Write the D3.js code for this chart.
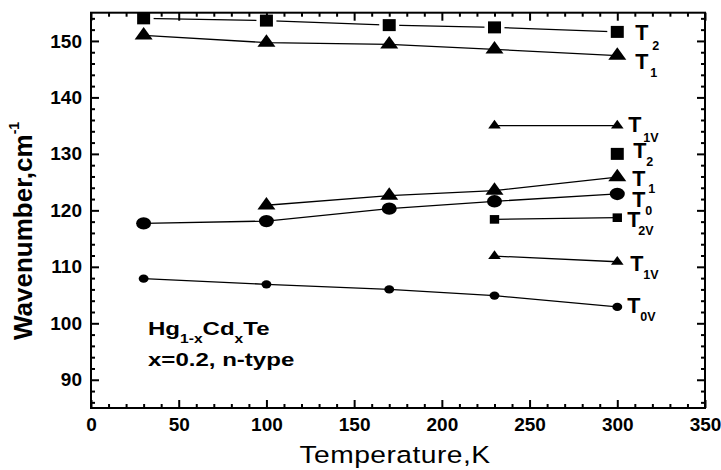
<!DOCTYPE html>
<html><head><meta charset="utf-8">
<script src="https://cdn.jsdelivr.net/npm/d3@7"></script>
<style>
body{margin:0;background:#fff}
svg{display:block}
text{font-family:"Liberation Sans",Arial,sans-serif;fill:#000}
</style>
</head><body>
<svg id="c" width="721" height="470"></svg>
<script>
// ---- data ----
const temps = [30, 100, 170, 230, 300];
const T2top  = [154.0, 153.6, 152.8, 152.4, 151.6];
const T1top  = [151.0, 149.7, 149.4, 148.5, 147.4];
const T1Vup  = [null, null, null, 135.0, 135.0];
const T2mid  = [null, null, null, null, 130.0];
const T1low  = [null, 120.9, 122.6, 123.5, 125.9];
const T0     = [117.7, 118.1, 120.3, 121.6, 122.9];
const T2V    = [null, null, null, 118.4, 118.7];
const T1Vlow = [null, null, null, 111.9, 110.9];
const T0V    = [107.9, 106.9, 106.0, 104.9, 102.9];
const xTicks = [0, 50, 100, 150, 200, 250, 300, 350];
const yTicks = [90, 100, 110, 120, 130, 140, 150];
const labelMain = ["T","T","T","T","T","T","T","T","T"];
const labelSub  = ["2","1","1V","2","1","0","2V","1V","0V"];

// ---- layout / style ----
const svg = d3.select("#c");
const x = d3.scaleLinear([0, 350], [91, 705]);
const y = d3.scaleLinear([85, 155], [408, 12.7]);

const series = [
  {v: T2top,  m: "sq",  s: 1, halo: true},
  {v: T1top,  m: "tri", s: 1},
  {v: T1Vup,  m: "tri", s: 0.7},
  {v: T2mid,  m: "sq",  s: 1},
  {v: T1low,  m: "tri", s: 1},
  {v: T0,     m: "cir", s: 1},
  {v: T2V,    m: "sq",  s: 0.72},
  {v: T1Vlow, m: "tri", s: 0.7},
  {v: T0V,    m: "cir", s: 0.66}
];
// label offsets relative to the last point of each series (px)
const labelPos = [
  {dx:18, dy:8,   sx:35, sy:18},
  {dx:18, dy:13,  sx:33, sy:21},
  {dx:11, dy:6.5, sx:26, sy:16.5},
  {dx:16, dy:4.5, sx:29, sy:12.5},
  {dx:15, dy:8.5, sx:31, sy:16},
  {dx:15, dy:13,  sx:28, sy:21},
  {dx:10, dy:9.5, sx:21, sy:17.5},
  {dx:13, dy:9,   sx:26, sy:17},
  {dx:10, dy:6,   sx:23, sy:14}
];

function markerPath(type, s) {
  if (type === "sq") { const w = 13*s, h = 12*s; return `M${-w/2},${-h/2}h${w}v${h}h${-w}Z`; }
  if (type === "tri") { const w = 18*s, h = 12.5*s; return `M0,${-2*h/3}L${w/2},${h/3}L${-w/2},${h/3}Z`; }
  const rx = 7.5*s, ry = 6.2*s;
  return `M${-rx},0A${rx},${ry} 0 1,0 ${rx},0A${rx},${ry} 0 1,0 ${-rx},0Z`;
}

const line = d3.line().defined(d => d[1] != null).x(d => x(d[0])).y(d => y(d[1]));

const gData = svg.append("g");
series.forEach(se => {
  const pts = temps.map((t, i) => [t, se.v[i]]);
  gData.append("path").attr("d", line(pts)).attr("fill", "none")
    .attr("stroke", "#000").attr("stroke-width", 1.3);
});
series.forEach(se => {
  const pts = temps.map((t, i) => [t, se.v[i]]).filter(d => d[1] != null);
  gData.selectAll(null).data(pts).enter().append("path")
    .attr("transform", d => `translate(${x(d[0])},${y(d[1])})`)
    .attr("d", markerPath(se.m, se.s))
    .attr("fill", "#000")
    .attr("stroke", se.halo ? "#fff" : "none")
    .attr("stroke-width", se.halo ? 7 : 0)
    .style("paint-order", "stroke");
});

// series labels
series.forEach((se, i) => {
  const last = temps.map((t, k) => [t, se.v[k]]).filter(d => d[1] != null).pop();
  const px = x(last[0]), py = y(last[1]), lp = labelPos[i];
  svg.append("text").attr("x", px + lp.dx).attr("y", py + lp.dy)
    .attr("font-size", 21.5).attr("font-weight", "bold").text(labelMain[i]);
  svg.append("text").attr("x", px + lp.sx).attr("y", py + lp.sy)
    .attr("font-size", 12.5).attr("font-weight", "bold").text(labelSub[i]);
});

// ---- axes ----
const minorX = d3.range(0, 351, 10).filter(v => v % 50 !== 0);
const minorY = d3.range(86, 155, 2).filter(v => v % 10 !== 0);

function styleAxis(g) {
  g.select(".domain").remove();
  g.selectAll("line").attr("stroke", "#000").attr("stroke-width", 2);
  g.selectAll("text").attr("font-size", 19).attr("font-weight", "bold")
    .attr("font-family", '"Liberation Sans",Arial,sans-serif');
}

svg.append("g").attr("transform", "translate(0,408)")
  .call(d3.axisBottom(x).tickValues(xTicks).tickSize(-8).tickPadding(10).tickFormat(d3.format("d"))).call(styleAxis);
svg.append("g").attr("transform", "translate(0,408)")
  .call(d3.axisBottom(x).tickValues(minorX).tickSize(-4).tickFormat("")).call(styleAxis);
svg.append("g").attr("transform", "translate(0,12.7)")
  .call(d3.axisTop(x).tickValues(xTicks).tickSize(-8).tickFormat("")).call(styleAxis);
svg.append("g").attr("transform", "translate(0,12.7)")
  .call(d3.axisTop(x).tickValues(minorX).tickSize(-4).tickFormat("")).call(styleAxis);
svg.append("g").attr("transform", "translate(91,0)")
  .call(d3.axisLeft(y).tickValues(yTicks).tickSize(-8).tickPadding(9).tickFormat(d3.format("d"))).call(styleAxis);
svg.append("g").attr("transform", "translate(91,0)")
  .call(d3.axisLeft(y).tickValues(minorY).tickSize(-4).tickFormat("")).call(styleAxis);
svg.append("g").attr("transform", "translate(705,0)")
  .call(d3.axisRight(y).tickValues(yTicks).tickSize(-8).tickFormat("")).call(styleAxis);
svg.append("g").attr("transform", "translate(705,0)")
  .call(d3.axisRight(y).tickValues(minorY).tickSize(-4).tickFormat("")).call(styleAxis);

svg.append("rect").attr("x", 91).attr("y", 12.7).attr("width", 614).attr("height", 395.3)
  .attr("fill", "none").attr("stroke", "#000").attr("stroke-width", 2);

// axis titles
svg.append("text").attr("transform", "translate(395,463) scale(1.2,1)").attr("text-anchor", "middle")
  .attr("font-size", 23.5).attr("letter-spacing", 0.4).text("Temperature,K");
const yt = svg.append("text").attr("transform", "translate(32,340) rotate(-90)")
  .attr("font-size", 26).attr("font-weight", "bold");
yt.append("tspan").text("Wavenumber,cm");
yt.append("tspan").attr("font-size", 14).attr("dy", -13).text("-1");

// annotation
const a1 = svg.append("text").attr("transform", "translate(148,335) scale(1.3,1)")
  .attr("font-size", 18.5).attr("font-weight", "bold");
a1.append("tspan").text("Hg");
a1.append("tspan").attr("font-size", 12).attr("dy", 8).text("1-x");
a1.append("tspan").attr("dy", -8).text("Cd");
a1.append("tspan").attr("font-size", 12).attr("dy", 8).text("x");
a1.append("tspan").attr("dy", -8).text("Te");
svg.append("text").attr("transform", "translate(148,366) scale(1.3,1)")
  .attr("font-size", 18.5).attr("font-weight", "bold").text("x=0.2, n-type");
</script>
</body></html>
